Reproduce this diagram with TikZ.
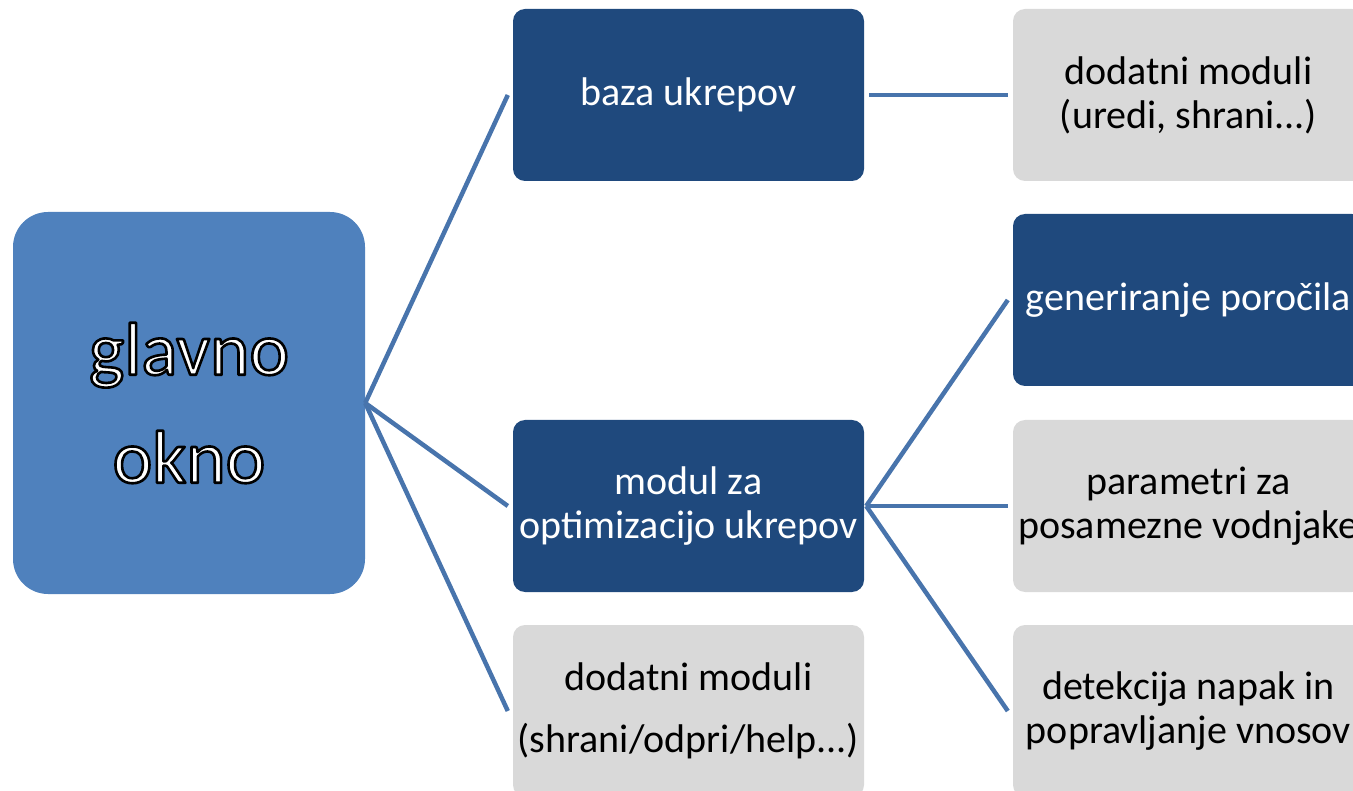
\documentclass[tikz,border=0pt]{standalone}
\usepackage{fontspec}
\setmainfont{Carlito}
\usetikzlibrary{positioning}

\definecolor{mainblue}{HTML}{4F81BD}
\definecolor{darkblue}{HTML}{1F497D}
\definecolor{boxgray}{HTML}{D9D9D9}
\definecolor{linkblue}{HTML}{4874AC}

% white letters with a thin black outline (fill + stroke render mode)
\newcommand\outlined[1]{%
  \special{pdf:literal direct q 2 Tr 2.6 w 1 j 0 0 0 RG}#1\special{pdf:literal direct Q}}

\tikzset{
  box/.style={rectangle, rounded corners=12pt, minimum width=351pt,
    minimum height=172pt, inner sep=0pt, align=center,
    font=\fontsize{40}{44}\selectfont},
  darkbox/.style={box, fill=darkblue, text=white},
  graybox/.style={box, fill=boxgray, text=black},
  link/.style={draw=linkblue, line width=4.5pt},
}

\begin{document}
\begin{tikzpicture}[x=1pt,y=-1pt]
\useasboundingbox (0,0) rectangle (1353,791);
\clip (0,0) rectangle (1353,791);

% main window
\node[rectangle, rounded corners=35pt, fill=mainblue, minimum width=352pt,
  minimum height=382pt, text=white, align=center,
  font=\fontsize{75}{108}\selectfont] (glavno) at (189,403)
  {\outlined{glavno}\\\outlined{okno}};

% middle column
\node[darkbox] (baza) at (688.5,95) {baza ukrepov};
\node[darkbox] (modul) at (688.5,506) {modul za\\optimizacijo ukrepov};
\node[graybox] (dodatni) at (688.5,711) {dodatni moduli\\[18pt](shrani/odpri/help...)};

% right column
\node[graybox] (uredi) at (1188.5,95) {dodatni moduli\\(uredi, shrani...)};
\node[darkbox] (porocila) at (1188.5,300) {generiranje poročila};
\node[graybox] (parametri) at (1188.5,506) {parametri za\\posamezne vodnjake};
\node[graybox] (napake) at (1188.5,711) {detekcija napak in\\popravljanje vnosov};

% connectors
\foreach \target in {baza,modul,dodatni}
  \draw[link] (glavno.east) -- ([xshift=-5pt]\target.west);
\draw[link, shorten <=5pt] (baza.east) -- ([xshift=-5pt]uredi.west);
\foreach \target in {porocila,parametri,napake}
  \draw[link] ([xshift=2pt]modul.east) -- ([xshift=-5pt]\target.west);
\end{tikzpicture}
\end{document}
